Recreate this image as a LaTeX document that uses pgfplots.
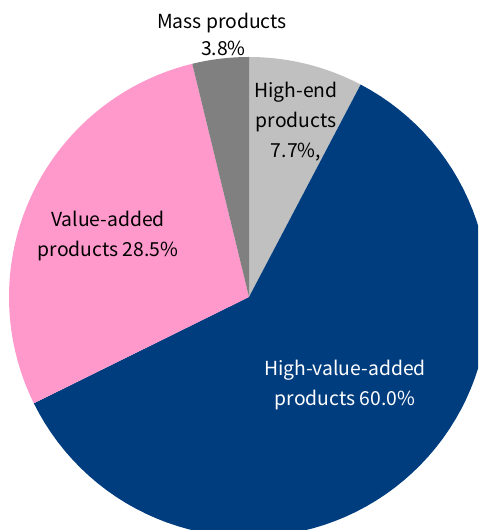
\documentclass[border=0pt]{standalone}
\usepackage{pgfplots}
\pgfplotsset{compat=1.18}
\usepackage{fontspec}
\setmainfont{Noto Sans CJK JP}
\definecolor{cHighEnd}{RGB}{192,192,192}
\definecolor{cHighValue}{RGB}{0,61,126}
\definecolor{cValue}{RGB}{255,153,204}
\definecolor{cMass}{RGB}{128,128,128}
% shares in percent, clockwise from 12 o'clock
\def\pHighEnd{7.7}
\def\pHighValue{60.0}
\def\pValue{28.5}
\def\pMass{3.8}
\begin{document}
\begin{tikzpicture}
\clip (0pt,0pt) rectangle (358.5pt,397.5pt);
\begin{axis}[
  at={(186.75pt,174.75pt)}, anchor=center,
  scale only axis, width=360pt, height=360pt,
  xmin=-1, xmax=1, ymin=-1, ymax=1,
  hide axis, clip=false,
  samples=80, variable=\t,
]
\pgfmathsetmacro{\aA}{90}
\pgfmathsetmacro{\aB}{90-3.6*\pHighEnd}
\pgfmathsetmacro{\aC}{\aB-3.6*\pHighValue}
\pgfmathsetmacro{\aD}{\aC-3.6*\pValue}
\pgfmathsetmacro{\aE}{\aD-3.6*\pMass}
\addplot[fill=cHighEnd, draw=none, domain=\aA:\aB] ({cos(t)},{sin(t)}) -- (axis cs:0,0) -- cycle;
\addplot[fill=cHighValue, draw=none, domain=\aB:\aC] ({cos(t)},{sin(t)}) -- (axis cs:0,0) -- cycle;
\addplot[fill=cValue, draw=none, domain=\aC:\aD] ({cos(t)},{sin(t)}) -- (axis cs:0,0) -- cycle;
\addplot[fill=cMass, draw=none, domain=\aD:\aE] ({cos(t)},{sin(t)}) -- (axis cs:0,0) -- cycle;
\end{axis}
\begin{scope}[every node/.style={align=center, font=\fontsize{14.5}{20.6}\selectfont, inner sep=0pt}]
\node[black, anchor=base] at (166.5pt,376pt) {Mass products};
\node[black, anchor=base] at (167.5pt,355.5pt) {3.8\%};
\node[black] at (222pt,306.25pt) {High-end\\[2pt]products\\[2pt]7.7\%,};
\node[black] at (81pt,220.5pt) {Value-added\\[2pt]products 28.5\%};
\node[white] at (258.75pt,108.75pt) {High-value-added\\[2pt]products 60.0\%};
\end{scope}
\end{tikzpicture}
\end{document}
